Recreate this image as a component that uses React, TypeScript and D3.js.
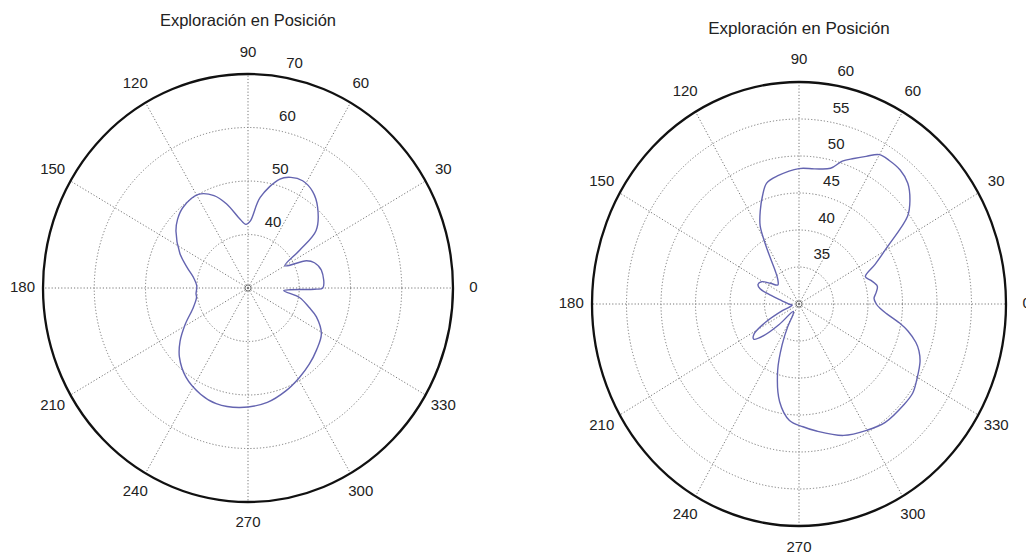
import React from 'react';
import * as d3 from 'd3';

// left plot: angle (deg) -> level
const leftAngles = [0, 13, 20, 24, 30, 35, 39, 48, 55, 62, 68, 73, 82, 88, 92, 97, 105, 111, 119, 130, 137, 143, 154, 162, 169, 178, 186, 190, 199, 209, 217, 224, 234, 245, 254, 266, 280, 291, 301, 310, 319, 329, 338, 343, 350, 356, 359];
const leftValues = [44.6, 44.7, 43.8, 42.5, 38.3, 42.3, 47.1, 50.3, 52.0, 52.7, 52.3, 51.3, 47.1, 42.5, 41.9, 43.0, 46.3, 48.5, 50.0, 49.7, 48.8, 47.6, 44.8, 42.5, 40.9, 40.0, 40.2, 40.2, 41.3, 44.0, 46.6, 48.6, 50.6, 51.9, 52.5, 52.4, 51.7, 50.6, 49.5, 48.6, 47.7, 46.7, 44.4, 42.5, 40.2, 37.0, 43.0];
const leftRings = [40, 50, 60, 70];

// right plot
const rightAngles = [0, 4, 8, 12, 17, 21, 26, 31, 37, 41, 46, 51, 56, 60, 64, 68, 72, 76, 83, 90, 100, 106, 110, 114, 118, 121, 124, 128, 133, 140, 146, 151, 156, 160, 164, 170, 180, 190, 200, 207, 212, 216, 220, 224, 230, 237, 242, 246, 251, 258, 265, 272, 278, 290, 300, 308, 318, 324, 330, 336, 340, 343, 347, 350, 354, 357];
const rightValues = [41.2, 40.9, 41.3, 41.6, 40.9, 40.3, 42.3, 44.9, 49.7, 51.3, 52.7, 53.3, 53.4, 53.3, 52.2, 51.2, 50.3, 48.9, 48.4, 48.3, 47.6, 47.0, 45.5, 43.8, 42.0, 39.5, 37.3, 35.5, 34.5, 34.0, 35.0, 36.2, 36.5, 36.0, 34.2, 32.5, 31.5, 31.0, 32.5, 35.5, 37.7, 38.1, 36.6, 34.0, 31.3, 31.5, 33.5, 36.0, 39.5, 43.5, 45.8, 46.6, 47.3, 48.9, 49.7, 50.3, 50.4, 50.4, 49.8, 49.2, 48.5, 47.7, 46.2, 44.8, 42.8, 41.8];
const rightRings = [35, 40, 45, 50, 55, 60];

const spokeAngles = [0, 30, 60, 90, 120, 150, 180, 210, 240, 270, 300, 330];
const title = 'Exploración en Posición';
const font = 'Liberation Sans, Arial, sans-serif';

function Polar({ cx, cy, rx, ry, rMin, rings, angles, values, titleY, titleSize }) {
  const rMax = rings[rings.length - 1];
  const r = d3.scaleLinear().domain([rMin, rMax]).range([0, 1]);
  const pt = (deg, v) => {
    const a = (deg * Math.PI) / 180;
    const n = r(v);
    return [cx + n * rx * Math.cos(a), cy - n * ry * Math.sin(a)];
  };
  const pts = angles.map((a, i) => pt(a, values[i]));
  const line = d3.line().curve(d3.curveCatmullRomClosed.alpha(0.5));
  const c82 = Math.cos((82 * Math.PI) / 180);
  const s82 = Math.sin((82 * Math.PI) / 180);

  return (
    <g fontFamily={font} fill="#222">
      <text x={cx} y={titleY} textAnchor="middle" dominantBaseline="middle" fontSize={titleSize}>{title}</text>
      {rings.slice(0, -1).map(t => (
        <ellipse key={t} cx={cx} cy={cy} rx={r(t) * rx} ry={r(t) * ry} fill="none" stroke="#777" strokeWidth={1} strokeDasharray="1.2,2" />
      ))}
      <circle cx={cx} cy={cy} r={3} fill="none" stroke="#777" strokeWidth={1} />
      {spokeAngles.map(a => {
        const [x, y] = pt(a, rMax);
        return <line key={a} x1={cx} y1={cy} x2={x} y2={y} stroke="#777" strokeWidth={1} strokeDasharray="1.2,2" />;
      })}
      <ellipse cx={cx} cy={cy} rx={rx} ry={ry} fill="none" stroke="#111" strokeWidth={2.3} />
      {spokeAngles.map(a => {
        const rad = (a * Math.PI) / 180;
        return (
          <text key={'l' + a} x={cx + 1.1 * rx * Math.cos(rad)} y={cy - 1.1 * ry * Math.sin(rad)} textAnchor="middle" dominantBaseline="middle" fontSize={15}>{a}</text>
        );
      })}
      {rings.map(t => (
        <text key={'r' + t} x={cx + r(t) * rx * c82 + 18} y={cy - r(t) * ry * s82 - 12} textAnchor="middle" dominantBaseline="middle" fontSize={15}>{t}</text>
      ))}
      <path d={line(pts)} fill="none" stroke="#6464b0" strokeWidth={1.4} />
    </g>
  );
}

export default function App() {
  return (
    <svg width={1026} height={556} style={{ position: 'absolute', left: 0, top: 0, background: '#fff' }}>
      <Polar cx={248} cy={288} rx={205} ry={214} rMin={30} rings={leftRings} angles={leftAngles} values={leftValues} titleY={22} titleSize={16.5} />
      <Polar cx={799} cy={304} rx={207} ry={222} rMin={30} rings={rightRings} angles={rightAngles} values={rightValues} titleY={30} titleSize={17} />
    </svg>
  );
}
